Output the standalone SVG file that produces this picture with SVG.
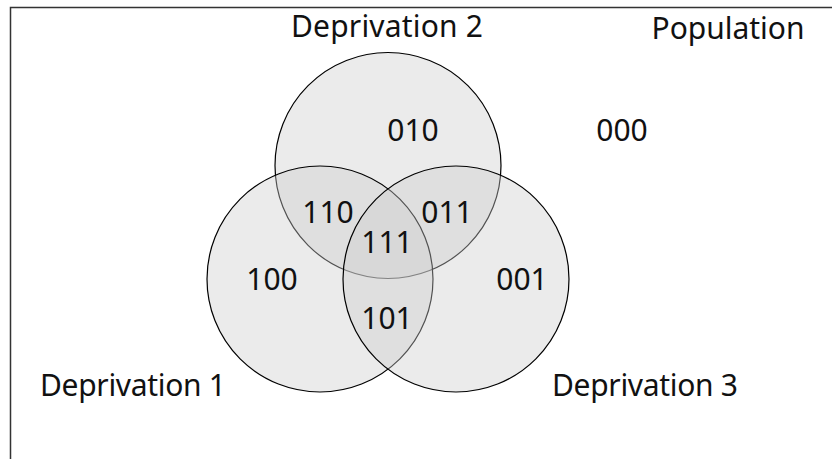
<svg xmlns="http://www.w3.org/2000/svg" width="832" height="459" viewBox="0 0 832 459">
<style>
.frame{fill:#fff;stroke:#333;stroke-width:1.5}
.set{fill:#cccccc;fill-opacity:0.4;stroke:#000;stroke-width:1.2}
text{font-family:"Noto Sans","Open Sans",sans-serif;font-size:30px;fill:#111;text-anchor:middle}
</style>
<rect class="frame" x="10.5" y="7.5" width="840" height="470"/>
<g id="set2"><circle class="set" cx="388" cy="165.5" r="113"/><text x="387" y="37" textLength="192">Deprivation 2</text></g>
<g id="set1"><circle class="set" cx="320" cy="279" r="113"/><text x="133" y="396" textLength="186">Deprivation 1</text></g>
<g id="set3"><circle class="set" cx="456" cy="279" r="113"/><text x="645" y="396" textLength="186">Deprivation 3</text></g>
<g id="population"><text x="728" y="39" textLength="153">Population</text><text x="622" y="141">000</text></g>
<g id="regions">
<text x="413" y="141">010</text>
<text x="272" y="290">100</text>
<text x="522" y="290">001</text>
<text x="328" y="223">110</text>
<text x="447" y="223">011</text>
<text x="387" y="253">111</text>
<text x="387" y="329">101</text>
</g>
<g id="connectors"/>
</svg>
